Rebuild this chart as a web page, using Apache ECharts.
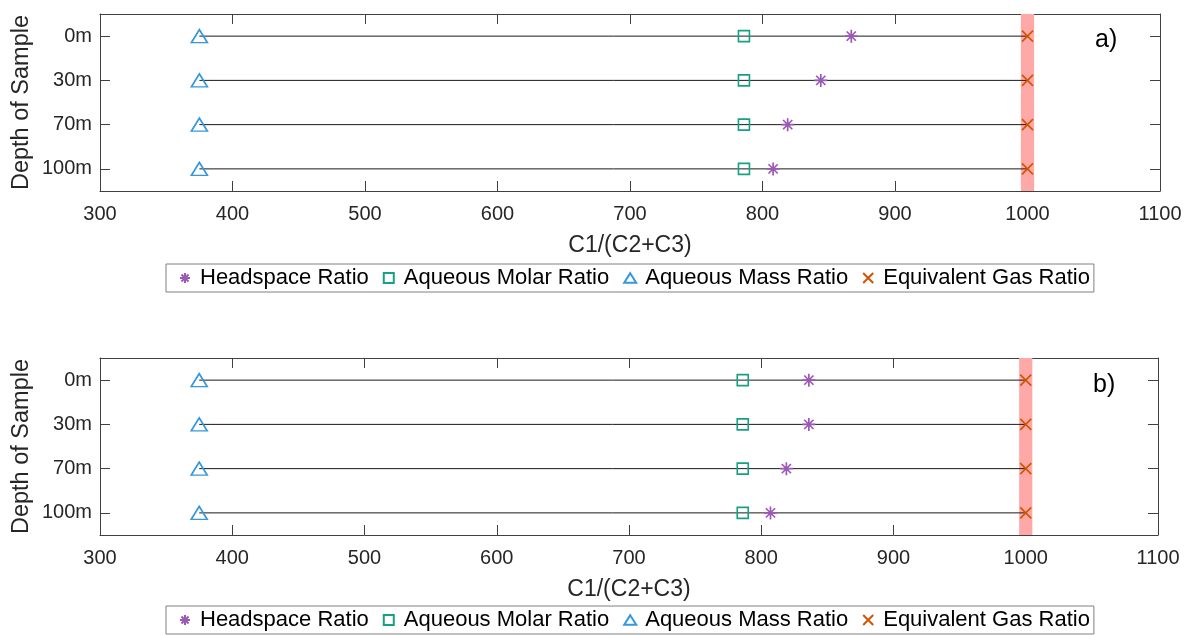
<!DOCTYPE html>
<html>
<head>
<meta charset="utf-8">
<script src="https://cdn.jsdelivr.net/npm/echarts@6/dist/echarts.min.js"></script>
<style>
  html, body { margin: 0; padding: 0; background: #fff; }
  #chart { width: 1186px; height: 635px; }
</style>
</head>
<body>
<div id="chart"></div>
<script>
// Sample depths (category rows, top to bottom)
const depths = ['0m', '30m', '70m', '100m'];

// Panel a) ratios C1/(C2+C3)
const headspaceA = [867, 844, 819, 808];
const molarA = [786, 786, 786, 786];
const massA = [375, 375, 375, 375];
const gasA = [1000, 1000, 1000, 1000];

// Panel b) ratios C1/(C2+C3)
const headspaceB = [836, 836, 819, 807];
const molarB = [786, 786, 786, 786];
const massB = [375, 375, 375, 375];
const gasB = [1000, 1000, 1000, 1000];

// Shaded range around the equivalent gas ratio
const gasBand = [995, 1005];

// Axis settings
const xMin = 300, xMax = 1100, xStep = 100;
const panelLabels = ['a)', 'b)'];
const seriesNames = ['Headspace Ratio', 'Aqueous Molar Ratio', 'Aqueous Mass Ratio', 'Equivalent Gas Ratio'];

const colors = {
  head: '#9B59B6',
  molar: '#16A085',
  mass: '#3498DB',
  gas: '#D35400'
};
const axisColor = '#404040';
const textColor = '#262626';
const FONT = '"Liberation Sans", Arial, Helvetica, sans-serif';

const SYM_ASTERISK = 'path://M5,0L5,10M0,5L10,5M1.46,1.46L8.54,8.54M8.54,1.46L1.46,8.54';
const SYM_SQUARE = 'path://M0,0L10,0L10,10L0,10Z';
const SYM_TRIANGLE = 'path://M5,0L10,8L0,8Z';
const SYM_CROSS = 'path://M0,0L10,10M10,0L0,10';

const panels = [
  { head: headspaceA, molar: molarA, mass: massA, gas: gasA },
  { head: headspaceB, molar: molarB, mass: massB, gas: gasB }
];

const grids = [
  { left: 100, top: 14, width: 1060, height: 177 },
  { left: 100, top: 358, width: 1058, height: 177 }
];

const xAxes = [], yAxes = [], series = [];

grids.forEach((g, gi) => {
  // bottom x axis with labels
  xAxes.push({
    type: 'value', gridIndex: gi, min: xMin, max: xMax, interval: xStep,
    position: 'bottom',
    name: 'C1/(C2+C3)', nameLocation: 'middle', nameGap: 43, nameMoveOverlap: false,
    nameTextStyle: { fontSize: 23, color: textColor, fontFamily: FONT },
    axisLine: { show: true, lineStyle: { color: axisColor, width: 1 } },
    axisTick: { show: true, inside: true, length: 10, lineStyle: { color: axisColor } },
    axisLabel: { fontSize: 20, color: textColor, fontFamily: FONT, margin: 13, formatter: v => String(v) },
    splitLine: { show: false }
  });
  // top mirror x axis
  xAxes.push({
    type: 'value', gridIndex: gi, min: xMin, max: xMax, interval: xStep,
    position: 'top',
    axisLine: { show: true, lineStyle: { color: axisColor, width: 1 } },
    axisTick: { show: true, inside: true, length: 10, lineStyle: { color: axisColor } },
    axisLabel: { show: false },
    splitLine: { show: false }
  });
  // left category y axis
  yAxes.push({
    type: 'category', gridIndex: gi, data: depths, inverse: true,
    position: 'left',
    name: 'Depth of Sample', nameLocation: 'middle', nameGap: 66, nameRotate: 90, nameMoveOverlap: false,
    nameTextStyle: { fontSize: 23.5, color: textColor, fontFamily: FONT },
    axisLine: { show: true, lineStyle: { color: axisColor, width: 1 } },
    axisTick: { show: true, inside: true, length: 10, alignWithLabel: true, lineStyle: { color: axisColor } },
    axisLabel: { fontSize: 20, color: textColor, fontFamily: FONT, margin: 8 },
    splitLine: { show: false }
  });
  // right mirror y axis
  yAxes.push({
    type: 'category', gridIndex: gi, data: depths, inverse: true,
    position: 'right',
    axisLine: { show: true, lineStyle: { color: axisColor, width: 1 } },
    axisTick: { show: true, inside: true, length: 10, alignWithLabel: true, lineStyle: { color: axisColor } },
    axisLabel: { show: false },
    splitLine: { show: false }
  });

  const xi = gi * 2, yi = gi * 2;
  const p = panels[gi];

  // shaded band at the equivalent gas ratio
  series.push({
    type: 'line', xAxisIndex: xi, yAxisIndex: yi, data: [], silent: true, z: 1,
    markArea: {
      silent: true,
      itemStyle: { color: '#FFA8A8' },
      data: [[{ xAxis: gasBand[0] }, { xAxis: gasBand[1] }]]
    }
  });

  // connector lines from aqueous mass ratio to gas ratio
  depths.forEach((d, i) => {
    series.push({
      type: 'line', xAxisIndex: xi, yAxisIndex: yi, z: 2, silent: true,
      symbol: 'none',
      lineStyle: { color: '#1a1a1a', width: 1 },
      data: [[p.mass[i], d], [p.gas[i], d]]
    });
  });

  const mk = (name, vals, symbol, size, color, bw) => ({
    name, type: 'scatter', xAxisIndex: xi, yAxisIndex: yi, z: 3,
    symbol, symbolSize: size,
    itemStyle: { color: 'rgba(0,0,0,0)', borderColor: color, borderWidth: bw, opacity: 1 },
    data: vals.map((v, i) => [v, depths[i]])
  });

  series.push(mk(seriesNames[0], p.head, SYM_ASTERISK, 13, colors.head, 1.7));
  series.push(mk(seriesNames[1], p.molar, SYM_SQUARE, 11, colors.molar, 1.6));
  series.push(mk(seriesNames[2], p.mass, SYM_TRIANGLE, [16, 13], colors.mass, 1.6));
  series.push(mk(seriesNames[3], p.gas, SYM_CROSS, 11, colors.gas, 1.6));
});

const legendBase = {
  data: seriesNames,
  orient: 'horizontal',
  left: 166,
  itemWidth: 12,
  itemHeight: 10,
  itemGap: 14,
  padding: [3, 4, 3, 13],
  borderColor: '#808080',
  borderWidth: 1,
  borderRadius: 0,
  selectedMode: false,
  textStyle: { fontSize: 22, color: '#000', fontFamily: FONT, padding: [0, 0, 0, 4] }
};

const option = {
  backgroundColor: '#fff',
  animation: false,
  grid: grids,
  xAxis: xAxes,
  yAxis: yAxes,
  legend: [
    Object.assign({}, legendBase, { top: 264 }),
    Object.assign({}, legendBase, { top: 606 })
  ],
  graphic: [
    { type: 'text', left: 1095, top: 28, style: { text: panelLabels[0], fontSize: 25, fill: '#000', fontFamily: FONT } },
    { type: 'text', left: 1093, top: 373, style: { text: panelLabels[1], fontSize: 25, fill: '#000', fontFamily: FONT } }
  ],
  series: series
};

const chart = echarts.init(document.getElementById('chart'), null, { renderer: 'canvas' });
chart.setOption(option);
</script>
</body>
</html>
